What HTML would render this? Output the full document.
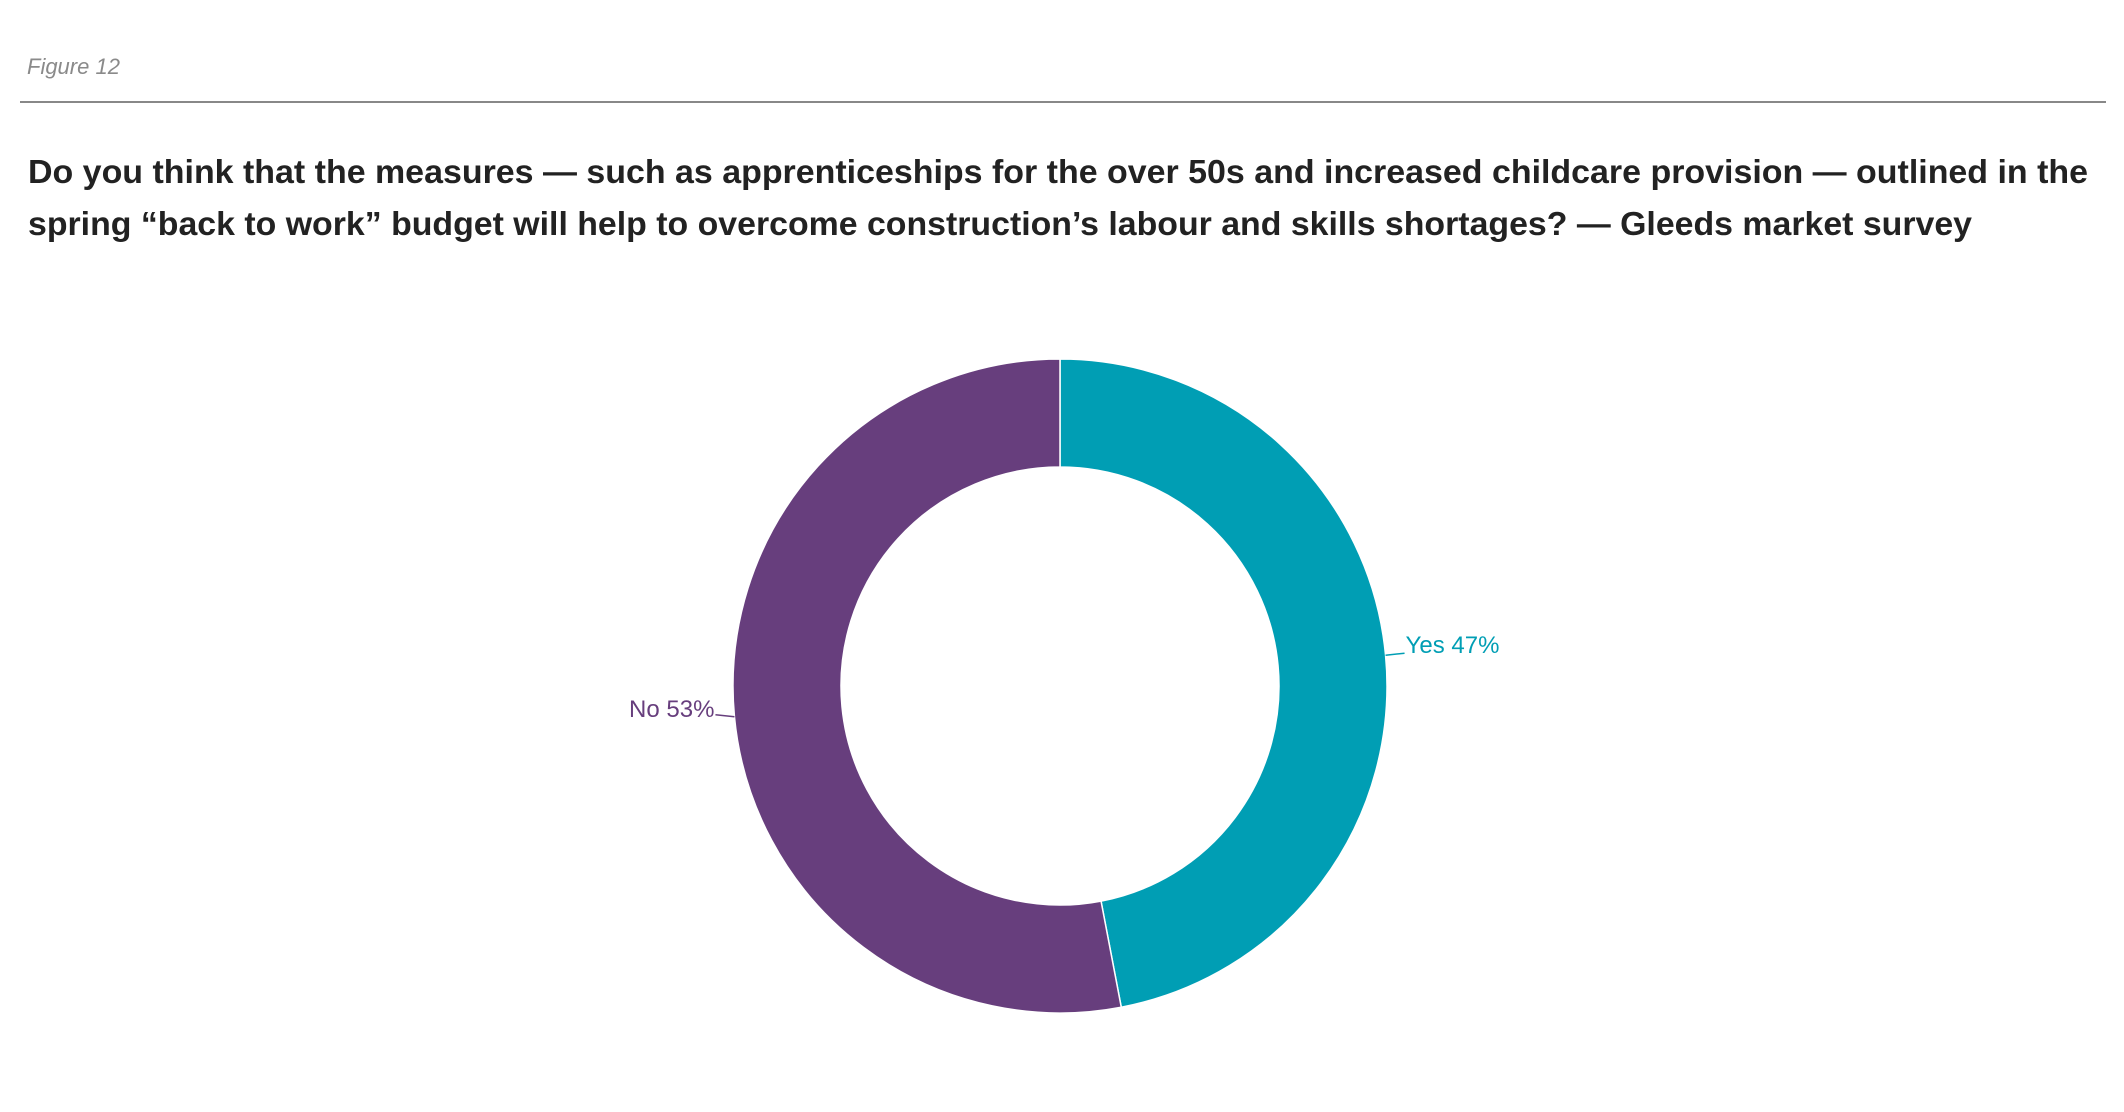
<!DOCTYPE html>
<html><head><meta charset="utf-8"><style>
html,body{margin:0;padding:0;background:#fff;}
svg{display:block;}
</style></head><body>
<svg id="chart" width="2124" height="1112" viewBox="0 0 2124 1112" xmlns="http://www.w3.org/2000/svg" font-family="'Liberation Sans', sans-serif">
  <text x="27" y="74" font-size="22" font-style="italic" fill="#8a8a8a">Figure 12</text>
  <rect x="20" y="101" width="2086" height="2" fill="#888"/>
  <text x="28" y="183" font-size="33" font-weight="bold" fill="#222" textLength="2060" lengthAdjust="spacingAndGlyphs">Do you think that the measures — such as apprenticeships for the over 50s and increased childcare provision — outlined in the</text>
  <text x="28" y="235" font-size="33" font-weight="bold" fill="#222" textLength="1944" lengthAdjust="spacingAndGlyphs">spring “back to work” budget will help to overcome construction’s labour and skills shortages? — Gleeds market survey</text>
  <g id="slices"></g>
  <g id="labels"></g>
</svg>
<script>
const categories = ["Yes", "No"];
const values = [47, 53];
const colors = ["#009eb4", "#673e7d"];

const cx = 1060, cy = 686, R = 327, r = 219;
const total = values.reduce((a,b)=>a+b,0);
function ang(v){ return v/total*2*Math.PI; }
function pt(a, rad){ return [cx + rad*Math.sin(a), cy - rad*Math.cos(a)]; }
const NS = "http://www.w3.org/2000/svg";
const gS = document.getElementById('slices');
const gL = document.getElementById('labels');
let acc = 0;
values.forEach((v,i)=>{
  const a0 = ang(acc), a1 = ang(acc+v);
  const large = (a1-a0) > Math.PI ? 1 : 0;
  const [x0,y0]=pt(a0,R),[x1,y1]=pt(a1,R),[x2,y2]=pt(a1,r),[x3,y3]=pt(a0,r);
  const p = document.createElementNS(NS,'path');
  p.setAttribute('d',`M${x0},${y0} A${R},${R} 0 ${large} 1 ${x1},${y1} L${x2},${y2} A${r},${r} 0 ${large} 0 ${x3},${y3} Z`);
  p.setAttribute('fill',colors[i]);
  p.setAttribute('stroke','#fff');
  p.setAttribute('stroke-width','1.5');
  
  
  gS.appendChild(p);
  const am = ang(acc + v/2);
  const [lx,ly] = pt(am, R);
  const right = Math.sin(am) >= 0;
  const ex = lx + (right ? 19 : -19), ey = ly - 2;
  const ln = document.createElementNS(NS,'line');
  ln.setAttribute('x1',lx); ln.setAttribute('y1',ly);
  ln.setAttribute('x2',ex); ln.setAttribute('y2',ey);
  ln.setAttribute('stroke',colors[i]); ln.setAttribute('stroke-width','1.5');
  
  
  gL.appendChild(ln);
  const t = document.createElementNS(NS,'text');
  t.setAttribute('x', ex + (right ? 1 : -1));
  t.setAttribute('y', ey + (right ? 0 : 2));
  t.setAttribute('font-size','24');
  t.setAttribute('fill',colors[i]);
  t.setAttribute('text-anchor', right ? 'start' : 'end');
  t.textContent = categories[i] + ' ' + v + '%';
  
  
  gL.appendChild(t);
  acc += v;
});
</script>
</body></html>
